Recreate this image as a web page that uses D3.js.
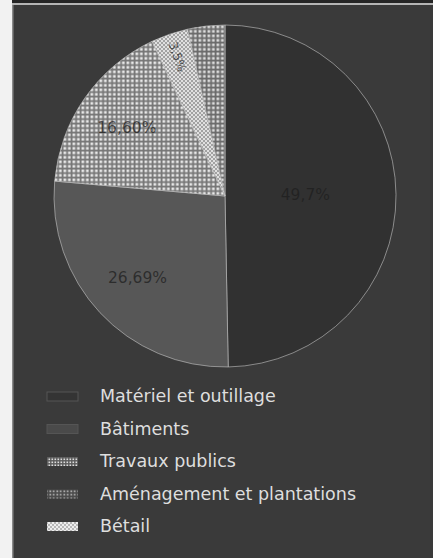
<!DOCTYPE html>
<html>
<head>
<meta charset="utf-8">
<script src="https://cdn.jsdelivr.net/npm/d3@7"></script>
<style>
  html, body { margin: 0; padding: 0; background: #f2f2f2; }
  svg { display: block; }
</style>
</head>
<body>
<svg id="chart" width="433" height="558"></svg>
<script>
// ---- data ----
const categories = ["Matériel et outillage", "Bâtiments", "Travaux publics", "Aménagement et plantations", "Bétail"];
const values = [49.7, 26.69, 16.6, 3.5, 3.51];
const valueLabels = ["49,7%", "26,69%", "16,60%", "3,5%", ""];

// ---- layout ----
const W = 433, H = 558;
const svg = d3.select("#chart");
const defs = svg.append("defs");

// patterns
function dotPattern(id, bg, fg, size, dot) {
  const p = defs.append("pattern").attr("id", id).attr("patternUnits", "userSpaceOnUse")
    .attr("width", size).attr("height", size);
  p.append("rect").attr("width", size).attr("height", size).attr("fill", bg);
  p.append("rect").attr("x", 0.5).attr("y", 0.5).attr("width", dot).attr("height", dot).attr("fill", fg);
}
function checkPattern(id, a, b) {
  const p = defs.append("pattern").attr("id", id).attr("patternUnits", "userSpaceOnUse")
    .attr("width", 4).attr("height", 4);
  p.append("rect").attr("width", 4).attr("height", 4).attr("fill", a);
  p.append("rect").attr("width", 2).attr("height", 2).attr("fill", b);
  p.append("rect").attr("x", 2).attr("y", 2).attr("width", 2).attr("height", 2).attr("fill", b);
}
dotPattern("pTravaux", "#767676", "#e8e8e8", 4.5, 2.7);
checkPattern("pAmen", "#a2a2a2", "#e0e0e0");
dotPattern("pBetail", "#6a6a6a", "#dcdcdc", 4.5, 2.7);
dotPattern("sTravaux", "#5a5a5a", "#dddddd", 3, 1.6);
dotPattern("sAmen", "#4a4a4a", "#cfcfcf", 3.5, 1.5);
checkPattern("sBetail", "#b8b8b8", "#eeeeee");

const fills = ["#313131", "#575757", "url(#pTravaux)", "url(#pAmen)", "url(#pBetail)"];
const swatchFills = ["#343434", "#4a4a4a", "url(#sTravaux)", "url(#sAmen)", "url(#sBetail)"];

// background frame
svg.append("rect").attr("x", 0).attr("y", 0).attr("width", W).attr("height", H).attr("fill", "#f2f2f2");
svg.append("rect").attr("x", 12).attr("y", 0).attr("width", W - 12).attr("height", H).attr("fill", "#3a3a3a");
svg.append("rect").attr("x", 12).attr("y", 0).attr("width", W - 12).attr("height", 3).attr("fill", "#262626");
svg.append("rect").attr("x", 12).attr("y", 3).attr("width", W - 12).attr("height", 2).attr("fill", "#b5b5b5");
svg.append("rect").attr("x", 12).attr("y", 5).attr("width", 1.5).attr("height", H - 5).attr("fill", "#8a8a8a");

// pie
const cx = 225, cy = 196, R = 171;
const pie = d3.pie().sort(null).value(d => d.v);
const data = categories.map((c, i) => ({ c, v: values[i], label: valueLabels[i], i }));
const arcs = pie(data);
const arc = d3.arc().innerRadius(0).outerRadius(R);

const g = svg.append("g").attr("transform", `translate(${cx},${cy})`);
g.selectAll("path.slice").data(arcs).join("path")
  .attr("class", "slice")
  .attr("d", arc)
  .attr("fill", d => fills[d.data.i])
  .attr("stroke", "#c4c4c4")
  .attr("stroke-opacity", 0.6)
  .attr("stroke-width", 1);

// labels
g.selectAll("text.val").data(arcs.filter(d => d.data.label)).join("text")
  .attr("class", "val")
  .attr("transform", d => {
    const a = (d.startAngle + d.endAngle) / 2;
    const frac = d.data.v / 100;
    let r;
    if (frac > 0.4) r = R * 0.47;
    else if (frac > 0.1) r = R * 0.7;
    else r = R * 0.86;
    const x = r * Math.sin(a), y = -r * Math.cos(a);
    const rot = frac < 0.1 ? a * 180 / Math.PI - 270 : 0;
    return `translate(${x},${y}) rotate(${rot})`;
  })
  .attr("text-anchor", "middle")
  .attr("dominant-baseline", "central")
  .attr("font-family", "DejaVu Sans, sans-serif")
  .attr("font-size", d => d.data.v < 10 ? 12 : 15.5)
  .attr("fill", "#1e1e1e")
  .attr("fill-opacity", 0.75)
  .text(d => d.data.label);

// legend
const legendY = d3.scalePoint().domain(categories).range([396, 526]);
const lg = svg.append("g");
const items = lg.selectAll("g.item").data(categories).join("g")
  .attr("class", "item")
  .attr("transform", d => `translate(0,${legendY(d)})`);
items.append("rect")
  .attr("x", 47).attr("y", -4).attr("width", 31).attr("height", 9)
  .attr("fill", (d, i) => swatchFills[i])
  .attr("stroke", (d, i) => i < 2 ? "#555" : "none")
  .attr("stroke-width", 1);
items.append("text")
  .attr("x", 100).attr("y", 0)
  .attr("dominant-baseline", "central")
  .attr("font-family", "DejaVu Sans, sans-serif")
  .attr("font-size", 17.5)
  .attr("fill", "#dedede")
  .text(d => d);
</script>
</body>
</html>
